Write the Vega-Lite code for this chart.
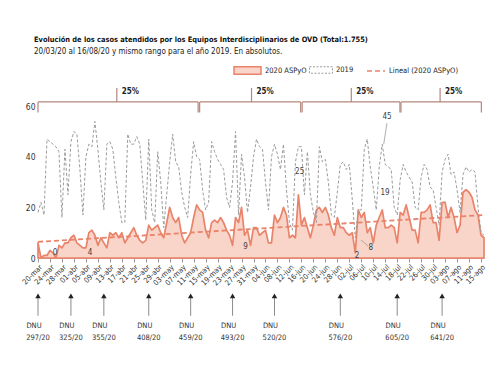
{
  "$schema": "https://vega.github.io/schema/vega-lite/v6.json",
  "background": "white",
  "padding": {"left": 20, "top": 35, "right": 5, "bottom": 5},
  "title": {
    "text": "Evolución de los casos atendidos por los Equipos Interdisciplinarios  de OVD (Total:1.755)",
    "subtitle": "20/03/20 al 16/08/20 y mismo rango para el año 2019. En absolutos.",
    "anchor": "start",
    "frame": "group",
    "fontSize": 7.4,
    "fontWeight": "bold",
    "color": "#111111",
    "subtitleFontSize": 8,
    "subtitleColor": "#222222",
    "subtitlePadding": 5,
    "offset": 0,
    "dx": -4
  },
  "config": {
    "font": "DejaVu Sans Condensed, Liberation Sans Narrow, sans-serif",
    "view": {"stroke": null},
    "axisX": {"labelOverlap": false}
  },
  "datasets": {
    "casos": [
      {"fecha":"2020-03-20","c2020":6,"c2019":18},
      {"fecha":"2020-03-21","c2020":0,"c2019":22},
      {"fecha":"2020-03-22","c2020":1,"c2019":17},
      {"fecha":"2020-03-23","c2020":1,"c2019":47},
      {"fecha":"2020-03-24","c2020":3,"c2019":46},
      {"fecha":"2020-03-25","c2020":2,"c2019":45},
      {"fecha":"2020-03-26","c2020":0,"c2019":44},
      {"fecha":"2020-03-27","c2020":5,"c2019":42},
      {"fecha":"2020-03-28","c2020":4,"c2019":16},
      {"fecha":"2020-03-29","c2020":6,"c2019":43},
      {"fecha":"2020-03-30","c2020":6,"c2019":25},
      {"fecha":"2020-03-31","c2020":8,"c2019":46},
      {"fecha":"2020-04-01","c2020":9,"c2019":50},
      {"fecha":"2020-04-02","c2020":6,"c2019":49},
      {"fecha":"2020-04-03","c2020":5,"c2019":35},
      {"fecha":"2020-04-04","c2020":4,"c2019":17},
      {"fecha":"2020-04-05","c2020":4,"c2019":40},
      {"fecha":"2020-04-06","c2020":10,"c2019":45},
      {"fecha":"2020-04-07","c2020":11,"c2019":44},
      {"fecha":"2020-04-08","c2020":9,"c2019":54},
      {"fecha":"2020-04-09","c2020":5,"c2019":43},
      {"fecha":"2020-04-10","c2020":8,"c2019":30},
      {"fecha":"2020-04-11","c2020":6,"c2019":19},
      {"fecha":"2020-04-12","c2020":4,"c2019":45},
      {"fecha":"2020-04-13","c2020":10,"c2019":46},
      {"fecha":"2020-04-14","c2020":9,"c2019":43},
      {"fecha":"2020-04-15","c2020":10,"c2019":32},
      {"fecha":"2020-04-16","c2020":8,"c2019":22},
      {"fecha":"2020-04-17","c2020":10,"c2019":14},
      {"fecha":"2020-04-18","c2020":6,"c2019":14},
      {"fecha":"2020-04-19","c2020":8,"c2019":49},
      {"fecha":"2020-04-20","c2020":10,"c2019":45},
      {"fecha":"2020-04-21","c2020":12,"c2019":45},
      {"fecha":"2020-04-22","c2020":9,"c2019":48},
      {"fecha":"2020-04-23","c2020":7,"c2019":45},
      {"fecha":"2020-04-24","c2020":6,"c2019":30},
      {"fecha":"2020-04-25","c2020":7,"c2019":15},
      {"fecha":"2020-04-26","c2020":13,"c2019":47},
      {"fecha":"2020-04-27","c2020":11,"c2019":19},
      {"fecha":"2020-04-28","c2020":12,"c2019":14},
      {"fecha":"2020-04-29","c2020":13,"c2019":42},
      {"fecha":"2020-04-30","c2020":10,"c2019":30},
      {"fecha":"2020-05-01","c2020":8,"c2019":12},
      {"fecha":"2020-05-02","c2020":14,"c2019":25},
      {"fecha":"2020-05-03","c2020":20,"c2019":38},
      {"fecha":"2020-05-04","c2020":16,"c2019":49},
      {"fecha":"2020-05-05","c2020":14,"c2019":38},
      {"fecha":"2020-05-06","c2020":16,"c2019":36},
      {"fecha":"2020-05-07","c2020":9,"c2019":26},
      {"fecha":"2020-05-08","c2020":6,"c2019":20},
      {"fecha":"2020-05-09","c2020":8,"c2019":16},
      {"fecha":"2020-05-10","c2020":10,"c2019":33},
      {"fecha":"2020-05-11","c2020":16,"c2019":46},
      {"fecha":"2020-05-12","c2020":21,"c2019":40},
      {"fecha":"2020-05-13","c2020":19,"c2019":39},
      {"fecha":"2020-05-14","c2020":18,"c2019":27},
      {"fecha":"2020-05-15","c2020":11,"c2019":19},
      {"fecha":"2020-05-16","c2020":8,"c2019":22},
      {"fecha":"2020-05-17","c2020":14,"c2019":46},
      {"fecha":"2020-05-18","c2020":15,"c2019":42},
      {"fecha":"2020-05-19","c2020":14,"c2019":39},
      {"fecha":"2020-05-20","c2020":16,"c2019":37},
      {"fecha":"2020-05-21","c2020":14,"c2019":35},
      {"fecha":"2020-05-22","c2020":11,"c2019":24},
      {"fecha":"2020-05-23","c2020":9,"c2019":20},
      {"fecha":"2020-05-24","c2020":5,"c2019":30},
      {"fecha":"2020-05-25","c2020":16,"c2019":50},
      {"fecha":"2020-05-26","c2020":14,"c2019":17},
      {"fecha":"2020-05-27","c2020":20,"c2019":41},
      {"fecha":"2020-05-28","c2020":9,"c2019":32},
      {"fecha":"2020-05-29","c2020":11,"c2019":18},
      {"fecha":"2020-05-30","c2020":5,"c2019":28},
      {"fecha":"2020-05-31","c2020":12,"c2019":40},
      {"fecha":"2020-06-01","c2020":12,"c2019":47},
      {"fecha":"2020-06-02","c2020":9,"c2019":44},
      {"fecha":"2020-06-03","c2020":10,"c2019":43},
      {"fecha":"2020-06-04","c2020":11,"c2019":30},
      {"fecha":"2020-06-05","c2020":6,"c2019":19},
      {"fecha":"2020-06-06","c2020":6,"c2019":40},
      {"fecha":"2020-06-07","c2020":17,"c2019":45},
      {"fecha":"2020-06-08","c2020":14,"c2019":41},
      {"fecha":"2020-06-09","c2020":16,"c2019":35},
      {"fecha":"2020-06-10","c2020":20,"c2019":45},
      {"fecha":"2020-06-11","c2020":17,"c2019":27},
      {"fecha":"2020-06-12","c2020":8,"c2019":14},
      {"fecha":"2020-06-13","c2020":9,"c2019":11},
      {"fecha":"2020-06-14","c2020":8,"c2019":38},
      {"fecha":"2020-06-15","c2020":25,"c2019":44},
      {"fecha":"2020-06-16","c2020":13,"c2019":44},
      {"fecha":"2020-06-17","c2020":16,"c2019":25},
      {"fecha":"2020-06-18","c2020":12,"c2019":42},
      {"fecha":"2020-06-19","c2020":8,"c2019":25},
      {"fecha":"2020-06-20","c2020":13,"c2019":18},
      {"fecha":"2020-06-21","c2020":19,"c2019":14},
      {"fecha":"2020-06-22","c2020":20,"c2019":44},
      {"fecha":"2020-06-23","c2020":18,"c2019":38},
      {"fecha":"2020-06-24","c2020":20,"c2019":39},
      {"fecha":"2020-06-25","c2020":17,"c2019":30},
      {"fecha":"2020-06-26","c2020":12,"c2019":17},
      {"fecha":"2020-06-27","c2020":9,"c2019":16},
      {"fecha":"2020-06-28","c2020":16,"c2019":26},
      {"fecha":"2020-06-29","c2020":12,"c2019":37},
      {"fecha":"2020-06-30","c2020":12,"c2019":38},
      {"fecha":"2020-07-01","c2020":10,"c2019":35},
      {"fecha":"2020-07-02","c2020":9,"c2019":37},
      {"fecha":"2020-07-03","c2020":10,"c2019":23},
      {"fecha":"2020-07-04","c2020":2,"c2019":8},
      {"fecha":"2020-07-05","c2020":19,"c2019":19},
      {"fecha":"2020-07-06","c2020":16,"c2019":19},
      {"fecha":"2020-07-07","c2020":18,"c2019":43},
      {"fecha":"2020-07-08","c2020":10,"c2019":47},
      {"fecha":"2020-07-09","c2020":12,"c2019":36},
      {"fecha":"2020-07-10","c2020":6,"c2019":28},
      {"fecha":"2020-07-11","c2020":13,"c2019":19},
      {"fecha":"2020-07-12","c2020":16,"c2019":36},
      {"fecha":"2020-07-13","c2020":19,"c2019":45},
      {"fecha":"2020-07-14","c2020":12,"c2019":37},
      {"fecha":"2020-07-15","c2020":12,"c2019":36},
      {"fecha":"2020-07-16","c2020":13,"c2019":35},
      {"fecha":"2020-07-17","c2020":12,"c2019":20},
      {"fecha":"2020-07-18","c2020":6,"c2019":17},
      {"fecha":"2020-07-19","c2020":18,"c2019":31},
      {"fecha":"2020-07-20","c2020":17,"c2019":37},
      {"fecha":"2020-07-21","c2020":21,"c2019":34},
      {"fecha":"2020-07-22","c2020":16,"c2019":32},
      {"fecha":"2020-07-23","c2020":11,"c2019":30},
      {"fecha":"2020-07-24","c2020":11,"c2019":20},
      {"fecha":"2020-07-25","c2020":6,"c2019":19},
      {"fecha":"2020-07-26","c2020":18,"c2019":32},
      {"fecha":"2020-07-27","c2020":18,"c2019":37},
      {"fecha":"2020-07-28","c2020":19,"c2019":35},
      {"fecha":"2020-07-29","c2020":21,"c2019":28},
      {"fecha":"2020-07-30","c2020":14,"c2019":27},
      {"fecha":"2020-07-31","c2020":14,"c2019":20},
      {"fecha":"2020-08-01","c2020":7,"c2019":13},
      {"fecha":"2020-08-02","c2020":22,"c2019":34},
      {"fecha":"2020-08-03","c2020":22,"c2019":39},
      {"fecha":"2020-08-04","c2020":16,"c2019":41},
      {"fecha":"2020-08-05","c2020":20,"c2019":33},
      {"fecha":"2020-08-06","c2020":16,"c2019":34},
      {"fecha":"2020-08-07","c2020":10,"c2019":27},
      {"fecha":"2020-08-08","c2020":13,"c2019":18},
      {"fecha":"2020-08-09","c2020":26,"c2019":33},
      {"fecha":"2020-08-10","c2020":27,"c2019":36},
      {"fecha":"2020-08-11","c2020":26,"c2019":34},
      {"fecha":"2020-08-12","c2020":24,"c2019":35},
      {"fecha":"2020-08-13","c2020":19,"c2019":34},
      {"fecha":"2020-08-14","c2020":17,"c2019":20},
      {"fecha":"2020-08-15","c2020":9,"c2019":10},
      {"fecha":"2020-08-16","c2020":8,"c2019":9}
    ],
    "tendencia": [
      {"fecha":"2020-03-20","valor":6.4},
      {"fecha":"2020-08-16","valor":17.0}
    ],
    "llaves": [
      {"inicio":"2020-03-20T00:00:00Z","fin":"2020-05-12T12:00:00Z","centro":"2020-04-15T08:00:00Z","texto":"25%"},
      {"inicio":"2020-05-13T00:00:00Z","fin":"2020-06-15T18:00:00Z","centro":"2020-05-30T08:00:00Z","texto":"25%"},
      {"inicio":"2020-06-16T06:00:00Z","fin":"2020-07-18T22:00:00Z","centro":"2020-07-02T16:00:00Z","texto":"25%"},
      {"inicio":"2020-07-19T06:00:00Z","fin":"2020-08-15T03:00:00Z","centro":"2020-08-01T08:00:00Z","texto":"25%"}
    ],
    "etiquetas": [
      {"fecha":"2020-03-25T17:00:00Z","y":2.0,"texto":"0"},
      {"fecha":"2020-04-06T10:00:00Z","y":2.0,"texto":"4"},
      {"fecha":"2020-05-28T07:00:00Z","y":4.3,"texto":"9"},
      {"fecha":"2020-06-15T10:00:00Z","y":34,"texto":"25"},
      {"fecha":"2020-07-04T14:00:00Z","y":0.8,"texto":"2"},
      {"fecha":"2020-07-09T05:00:00Z","y":3.9,"texto":"8"},
      {"fecha":"2020-07-13T22:00:00Z","y":25.7,"texto":"19"},
      {"fecha":"2020-07-14T14:00:00Z","y":55.7,"texto":"45"}
    ],
    "guias": [
      {"fecha":"2020-07-14T14:00:00Z","y":53.3,"fecha2":"2020-07-13T12:00:00Z","y2":45},
      {"fecha":"2020-07-05T22:00:00Z","y":7.1,"fecha2":"2020-07-08T07:00:00Z","y2":4.7}
    ],
    "dnu": [
      {"fecha":"2020-03-20","decreto":"297/20"},
      {"fecha":"2020-03-31","decreto":"325/20"},
      {"fecha":"2020-04-11","decreto":"355/20"},
      {"fecha":"2020-04-26","decreto":"408/20"},
      {"fecha":"2020-05-10","decreto":"459/20"},
      {"fecha":"2020-05-24","decreto":"493/20"},
      {"fecha":"2020-06-07","decreto":"520/20"},
      {"fecha":"2020-06-29","decreto":"576/20"},
      {"fecha":"2020-07-18","decreto":"605/20"},
      {"fecha":"2020-08-02","decreto":"641/20"}
    ]
  },
  "spacing": 5,
  "vconcat": [
    {
      "width": 446,
      "height": 172,
      "layer": [
        {
          "data": {"name": "casos"},
          "mark": {"type": "area", "stroke": "#e9836a", "fillOpacity": 1, "opacity": 1, "strokeWidth": 1.7, "strokeJoin": "round"},
          "encoding": {
            "x": {
              "field": "fecha", "type": "temporal",
              "scale": {"domain": [{"year": 2020, "month": 3, "date": 20, "utc": true}, {"year": 2020, "month": 8, "date": 16, "utc": true}]},
              "axis": {
                "title": null,
                "tickCount": 60,
                "values": [
                  {"year":2020,"month":3,"date":20,"utc":true},{"year":2020,"month":3,"date":24,"utc":true},{"year":2020,"month":3,"date":28,"utc":true},
                  {"year":2020,"month":4,"date":1,"utc":true},{"year":2020,"month":4,"date":5,"utc":true},{"year":2020,"month":4,"date":9,"utc":true},{"year":2020,"month":4,"date":13,"utc":true},{"year":2020,"month":4,"date":17,"utc":true},{"year":2020,"month":4,"date":21,"utc":true},{"year":2020,"month":4,"date":25,"utc":true},{"year":2020,"month":4,"date":29,"utc":true},
                  {"year":2020,"month":5,"date":3,"utc":true},{"year":2020,"month":5,"date":7,"utc":true},{"year":2020,"month":5,"date":11,"utc":true},{"year":2020,"month":5,"date":15,"utc":true},{"year":2020,"month":5,"date":19,"utc":true},{"year":2020,"month":5,"date":23,"utc":true},{"year":2020,"month":5,"date":27,"utc":true},{"year":2020,"month":5,"date":31,"utc":true},
                  {"year":2020,"month":6,"date":4,"utc":true},{"year":2020,"month":6,"date":8,"utc":true},{"year":2020,"month":6,"date":12,"utc":true},{"year":2020,"month":6,"date":16,"utc":true},{"year":2020,"month":6,"date":20,"utc":true},{"year":2020,"month":6,"date":24,"utc":true},{"year":2020,"month":6,"date":28,"utc":true},
                  {"year":2020,"month":7,"date":2,"utc":true},{"year":2020,"month":7,"date":6,"utc":true},{"year":2020,"month":7,"date":10,"utc":true},{"year":2020,"month":7,"date":14,"utc":true},{"year":2020,"month":7,"date":18,"utc":true},{"year":2020,"month":7,"date":22,"utc":true},{"year":2020,"month":7,"date":26,"utc":true},{"year":2020,"month":7,"date":30,"utc":true},
                  {"year":2020,"month":8,"date":3,"utc":true},{"year":2020,"month":8,"date":7,"utc":true},{"year":2020,"month":8,"date":11,"utc":true},{"year":2020,"month":8,"date":15,"utc":true}
                ],
                "labelExpr": "utcFormat(datum.value, '%d') + '-' + ['ene','feb','mar','abr','may','jun','jul','ago','sep','oct','nov','dic'][utcmonth(datum.value)]",
                "labelAngle": -45,
                "labelFontSize": 7.5,
                "labelColor": "#333333",
                "labelPadding": 1,
                "labelOverlap": false,
                "labelFlush": false,
                "labelBound": false,
                "tickSize": 4,
                "tickColor": "#999999",
                "domainColor": "#c9a79e",
                "grid": false
              }
            },
            "y": {
              "field": "c2020", "type": "quantitative",
              "scale": {"domain": [0, 68], "nice": false},
              "axis": {"title": null, "values": [0, 10, 20, 30, 40, 50, 60], "domain": false, "ticks": false, "grid": false, "labelFontSize": 8.5, "labelColor": "#333333", "labelPadding": 3}
            },
            "fill": {
              "datum": "2020 ASPyO", "type": "nominal",
              "scale": {"range": ["#f9d4c9"]},
              "legend": {
                "orient": "none", "legendX": 195, "legendY": -30, "title": null,
                "labelFontSize": 7.5, "labelColor": "#222222", "labelOffset": 3,
                "symbolType": "M-1,-0.28H1V0.28H-1Z", "symbolSize": 729,
                "symbolStrokeColor": "#e9836a", "symbolStrokeWidth": 1.5, "symbolOpacity": 1
              }
            }
          }
        },
        {
          "data": {"name": "casos"},
          "mark": {"type": "line", "strokeWidth": 1, "strokeDash": [3, 2]},
          "encoding": {
            "x": {"field": "fecha", "type": "temporal"},
            "y": {"field": "c2019", "type": "quantitative"},
            "stroke": {
              "datum": "2019", "type": "nominal",
              "scale": {"range": ["#9c9c9c"]},
              "legend": {
                "orient": "none", "legendX": 271, "legendY": -28, "title": null,
                "labelFontSize": 7.5, "labelColor": "#222222", "labelOffset": 3,
                "symbolType": "M-1,-0.28H1V0.28H-1Z", "symbolSize": 529,
                "symbolDash": [2, 1.5], "symbolStrokeWidth": 1, "symbolFillColor": "white", "symbolOpacity": 1
              }
            }
          }
        },
        {
          "data": {"name": "tendencia"},
          "mark": {"type": "line", "stroke": "#e9836a", "strokeWidth": 1.8},
          "encoding": {
            "x": {"field": "fecha", "type": "temporal"},
            "y": {"field": "valor", "type": "quantitative"},
            "strokeDash": {
              "datum": "Lineal (2020 ASPyO)", "type": "nominal",
              "scale": {"range": [[5, 3]]},
              "legend": {
                "orient": "none", "legendX": 328, "legendY": -25, "title": null,
                "labelFontSize": 7.5, "labelColor": "#222222", "labelOffset": 3,
                "symbolType": "stroke", "symbolSize": 324,
                "symbolStrokeColor": "#e9836a", "symbolStrokeWidth": 1.5, "symbolOpacity": 1
              }
            }
          }
        },
        {
          "data": {"name": "llaves"},
          "mark": {"type": "rule", "color": "#b5877c", "strokeWidth": 1.2},
          "encoding": {
            "x": {"field": "inicio", "type": "temporal"},
            "x2": {"field": "fin"},
            "y": {"datum": 61.7, "type": "quantitative"}
          }
        },
        {
          "data": {"name": "llaves"},
          "mark": {"type": "rule", "color": "#b5877c", "strokeWidth": 1.2},
          "encoding": {
            "x": {"field": "inicio", "type": "temporal"},
            "y": {"datum": 57.5, "type": "quantitative"},
            "y2": {"datum": 61.7}
          }
        },
        {
          "data": {"name": "llaves"},
          "mark": {"type": "rule", "color": "#b5877c", "strokeWidth": 1.2},
          "encoding": {
            "x": {"field": "fin", "type": "temporal"},
            "y": {"datum": 57.5, "type": "quantitative"},
            "y2": {"datum": 61.7}
          }
        },
        {
          "data": {"name": "llaves"},
          "mark": {"type": "rule", "color": "#b5877c", "strokeWidth": 1.2},
          "encoding": {
            "x": {"field": "centro", "type": "temporal"},
            "y": {"datum": 61.7, "type": "quantitative"},
            "y2": {"datum": 67.2}
          }
        },
        {
          "data": {"name": "llaves"},
          "mark": {"type": "text", "align": "left", "baseline": "middle", "dx": 5, "fontSize": 8, "fontWeight": "bold", "color": "#222222"},
          "encoding": {
            "x": {"field": "centro", "type": "temporal"},
            "y": {"datum": 65.6, "type": "quantitative"},
            "text": {"field": "texto"}
          }
        },
        {
          "data": {"name": "guias"},
          "mark": {"type": "rule", "color": "#999999", "strokeWidth": 0.8},
          "encoding": {
            "x": {"field": "fecha", "type": "temporal"},
            "x2": {"field": "fecha2"},
            "y": {"field": "y", "type": "quantitative"},
            "y2": {"field": "y2"}
          }
        },
        {
          "data": {"name": "etiquetas"},
          "mark": {"type": "text", "align": "center", "baseline": "middle", "fontSize": 8, "color": "#404040"},
          "encoding": {
            "x": {"field": "fecha", "type": "temporal"},
            "y": {"field": "y", "type": "quantitative"},
            "text": {"field": "texto"}
          }
        }
      ]
    },
    {
      "width": 446,
      "height": 54,
      "data": {"name": "dnu"},
      "encoding": {
        "x": {
          "field": "fecha", "type": "temporal",
          "scale": {"domain": [{"year": 2020, "month": 3, "date": 20, "utc": true}, {"year": 2020, "month": 8, "date": 16, "utc": true}]},
          "axis": null
        }
      },
      "layer": [
        {
          "mark": {"type": "rule", "color": "#8a8a8a", "strokeWidth": 1},
          "encoding": {
            "y": {"datum": 0.9, "type": "quantitative", "scale": {"domain": [0, 1]}, "axis": null},
            "y2": {"datum": 0.56}
          }
        },
        {
          "mark": {"type": "point", "shape": "triangle-up", "filled": true, "color": "#222222", "size": 30, "opacity": 1},
          "encoding": {
            "y": {"datum": 0.93, "type": "quantitative"}
          }
        },
        {
          "mark": {"type": "text", "align": "center", "baseline": "middle", "dx": -4, "fontSize": 7.5, "color": "#333333"},
          "encoding": {
            "y": {"datum": 0.37, "type": "quantitative"},
            "text": {"value": "DNU"}
          }
        },
        {
          "mark": {"type": "text", "align": "center", "baseline": "middle", "dx": 0, "fontSize": 7.5, "color": "#333333"},
          "encoding": {
            "y": {"datum": 0.15, "type": "quantitative"},
            "text": {"field": "decreto"}
          }
        }
      ]
    }
  ]
}
